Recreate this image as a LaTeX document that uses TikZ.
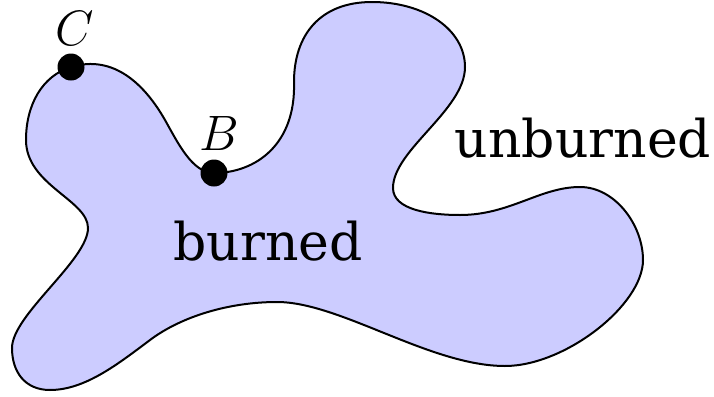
\documentclass[tikz,border=0pt]{standalone}
\usepackage{fontspec}
\newfontfamily\labelfont{DejaVu Serif}
\begin{document}
\begin{tikzpicture}[x=0.5pt,y=-0.5pt,
  region/.style={draw=black,line width=1pt,fill=blue!20},
  pointdot/.style={circle,fill=black,inner sep=0pt,minimum size=13.5pt},
  ptlabel/.style={anchor=base,inner sep=0pt,font=\fontsize{27}{30}\selectfont},
  word/.style={anchor=base,inner sep=0pt,font=\labelfont\fontsize{26}{30}\selectfont}]
\useasboundingbox (0,0) rectangle (714,397);
\draw[region] (71,67)
  .. controls (114,54) and (145,85) .. (165,120)
  .. controls (177.5,142) and (192,173) .. (214,173)
  .. controls (255,173) and (296,145) .. (294,82)
  .. controls (294,35) and (320,2) .. (372,2)
  .. controls (425,2) and (465,30) .. (465,67)
  .. controls (465,110) and (393,150) .. (393,188)
  .. controls (393,210) and (430,215) .. (460,215)
  .. controls (510,215) and (540,187) .. (580,187)
  .. controls (615,187) and (643,225) .. (643,260)
  .. controls (643,305) and (565,366) .. (505,366)
  .. controls (430,366) and (340,302) .. (277,302)
  .. controls (230,302) and (182,316) .. (150,340)
  .. controls (118,364) and (85,390) .. (50,390)
  .. controls (25,390) and (12,372) .. (12,348)
  .. controls (12,315) and (88,260) .. (88,228)
  .. controls (88,200) and (26,185) .. (26,140)
  .. controls (26,105) and (42,76) .. (71,67) -- cycle;
\node[pointdot] (C) at (71,67) {};
\node[pointdot] (B) at (214,173) {};
\node[ptlabel] (Clab) at (75,45) {$C$};
\node[ptlabel] (Blab) at (219,150) {$B$};
\node[word] (burned) at (268,260) {burned};
\node[word] (unburned) at (583,157) {unburned};
\end{tikzpicture}
\end{document}
